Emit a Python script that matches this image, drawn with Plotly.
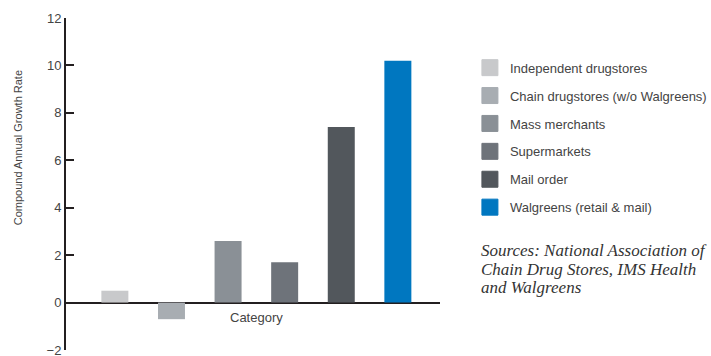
import plotly.graph_objects as go

categories = ["Category"]
series_names = [
    "Independent drugstores",
    "Chain drugstores (w/o Walgreens)",
    "Mass merchants",
    "Supermarkets",
    "Mail order",
    "Walgreens (retail & mail)",
]
series_values = [0.5, -0.7, 2.6, 1.7, 7.4, 10.2]
series_colors = ["#c8c9cb", "#a8adb2", "#8a9096", "#6e737a", "#52575c", "#0077c0"]
y_ticks = [-2, 0, 2, 4, 6, 8, 10, 12]
y_range = [-2, 12]
y_title = "Compound Annual Growth Rate"
source_lines = [
    "Sources: National Association of",
    "Chain Drug Stores, IMS Health",
    "and Walgreens",
]

fig = go.Figure()
for i, (name, val, col) in enumerate(zip(series_names, series_values, series_colors)):
    fig.add_trace(go.Bar(
        x=categories, y=[val], name=name, marker=dict(color=col, line=dict(width=0)),
        showlegend=False, legendgroup=f"g{i}",
    ))
for i, (name, col) in enumerate(zip(series_names, series_colors)):
    fig.add_trace(go.Scatter(
        x=[None], y=[None], mode="markers", name=name, legendgroup=f"g{i}",
        marker=dict(symbol="square", size=16, color=col, line=dict(width=1, color=col)),
    ))

annotations = [
    dict(text=y_title, xref="paper", yref="paper", x=-0.128, y=0.608,
         xanchor="center", yanchor="middle",
         textangle=-90, showarrow=False, font=dict(size=11, color="#444444")),
]
for k, line in enumerate(source_lines):
    annotations.append(dict(
        text=line, xref="paper", yref="paper", x=1.105, y=0.300, yshift=-18.7 * k,
        xanchor="left", yanchor="middle", align="left", showarrow=False,
        font=dict(family="Liberation Serif, Times New Roman, serif", size=17,
                  color="#333333", style="italic"),
    ))

fig.update_layout(
    width=711, height=356,
    margin=dict(l=66, r=271, t=18, b=6, autoexpand=False),
    paper_bgcolor="white", plot_bgcolor="white",
    barmode="group", bargap=0.092, bargroupgap=0.523,
    font=dict(family="Liberation Sans, Arial, sans-serif", size=13, color="#444444"),
    showlegend=True,
    legend=dict(
        x=1.080, xanchor="left", y=0.8955, yanchor="top",
        traceorder="grouped", tracegroupgap=8,
        font=dict(size=13, color="#444444"),
        bgcolor="rgba(0,0,0,0)",
    ),
    xaxis=dict(
        anchor="free", position=(0 - y_range[0]) / (y_range[1] - y_range[0]),
        range=[-0.509, 0.491],
        showline=False, ticks="", showgrid=False, zeroline=False,
        ticklabelstandoff=5,
        tickfont=dict(size=13, color="#444444"),
    ),
    yaxis=dict(
        range=y_range, tickvals=y_ticks, showgrid=False,
        showline=True, linecolor="#231f20", linewidth=2,
        ticks="inside", ticklen=8, tickwidth=2, tickcolor="#231f20",
        zeroline=True, zerolinecolor="#231f20", zerolinewidth=2,
        ticklabeloverflow="allow",
        tickfont=dict(size=13, color="#444444"),
    ),
    annotations=annotations,
)

fig.write_html("out.html")
